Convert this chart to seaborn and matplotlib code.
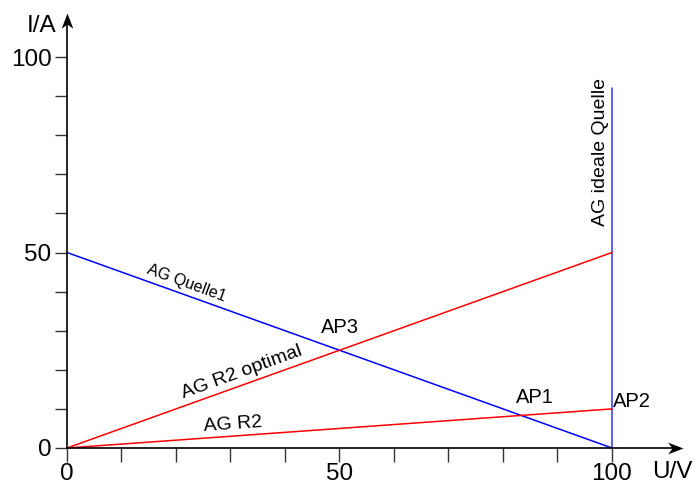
import matplotlib
matplotlib.use("Agg")
import matplotlib.pyplot as plt
from matplotlib.path import Path
import seaborn as sns
import pandas as pd

sns.set_style("white")
plt.rcParams['font.family'] = ['Liberation Sans', 'DejaVu Sans']
plt.rcParams['text.color'] = 'black'
plt.rcParams['xtick.color'] = 'black'
plt.rcParams['ytick.color'] = 'black'

# Data
quelle1_u = [0, 100]
quelle1_i = [50, 0]
ideal_u = [100, 100]
ideal_i = [0, 92]
r2opt_u = [0, 100]
r2opt_i = [0, 50]
r2_u = [0, 100]
r2_i = [0, 10]

x_ticks = list(range(0, 101, 10))
y_ticks = list(range(0, 101, 10))
x_labels = {0: "0", 50: "50", 100: "100"}
y_labels = {0: "0", 50: "50", 100: "100"}

df = pd.concat([
    pd.DataFrame({"U": quelle1_u, "I": quelle1_i, "line": "AG Quelle1"}),
    pd.DataFrame({"U": ideal_u, "I": ideal_i, "line": "AG ideale Quelle"}),
    pd.DataFrame({"U": r2opt_u, "I": r2opt_i, "line": "AG R2 optimal"}),
    pd.DataFrame({"U": r2_u, "I": r2_i, "line": "AG R2"}),
])
palette = {"AG Quelle1": "#0000ff", "AG ideale Quelle": "#3333ff",
           "AG R2 optimal": "#ff0000", "AG R2": "#ff0000"}

fig = plt.figure(figsize=(6.95, 4.84), dpi=100)
ax = fig.add_axes([0, 0, 1, 1])
sx = 5.45
sy = 3.91
ax.set_xlim(-67 / sx, (695 - 67) / sx)
ax.set_ylim((448 - 484) / sy, 448 / sy)

sns.lineplot(data=df, x="U", y="I", hue="line", units="line", estimator=None,
             sort=False, palette=palette, linewidth=1.1, legend=False, ax=ax)

# Axes with spines through origin
for s in ["top", "right"]:
    ax.spines[s].set_visible(False)
ax.spines["left"].set_position(("data", 0))
ax.spines["bottom"].set_position(("data", 0))
ax.spines["left"].set_bounds(0, 109)
ax.spines["bottom"].set_bounds(0, 111)
for s in ["left", "bottom"]:
    ax.spines[s].set_color("black")
    ax.spines[s].set_linewidth(1.2)
ax.set_xticks(x_ticks)
ax.set_xticklabels([x_labels.get(t, "") for t in x_ticks])
ax.set_yticks(y_ticks)
ax.set_yticklabels([y_labels.get(t, "") for t in y_ticks])
ax.tick_params(axis="x", bottom=True, direction="out", length=10, width=1,
               color="#333333", labelcolor="black", labelsize=17.5, pad=0.8)
ax.tick_params(axis="y", left=True, direction="out", length=8.6, width=1,
               color="#333333", labelcolor="black", labelsize=17.5, pad=2.5)
ax.set_xlabel("")
ax.set_ylabel("")

# barbed arrow heads as custom markers (tip at the origin of the marker)
right_head = Path([(0, 0), (-1, 0.38), (-0.72, 0), (-1, -0.38), (0, 0)],
                  [Path.MOVETO, Path.LINETO, Path.LINETO, Path.LINETO, Path.CLOSEPOLY])
up_head = Path([(0, 0), (0.38, -1), (0, -0.72), (-0.38, -1), (0, 0)],
               [Path.MOVETO, Path.LINETO, Path.LINETO, Path.LINETO, Path.CLOSEPOLY])
ax.plot([113.0], [0], marker=right_head, markersize=22, color="black",
        markeredgewidth=0, clip_on=False)
ax.plot([0], [111.3], marker=up_head, markersize=22, color="black",
        markeredgewidth=0, clip_on=False)

# axis titles
ax.text(-4.6, 108, "I/A", fontsize=17.5, ha="center", va="center")
ax.text(111, -6.2, "U/V", fontsize=17.5, ha="center", va="center")

# annotations
ax.text(22, 42.2, "AG Quelle1", fontsize=11.5, rotation=-20, ha="center", va="center",
        rotation_mode="anchor")
ax.text(32.1, 19.4, "AG R2 optimal", fontsize=14, rotation=20, ha="center",
        va="center", rotation_mode="anchor")
ax.text(30.5, 5.9, "AG R2", fontsize=14, rotation=4, ha="center", va="center",
        rotation_mode="anchor")
ax.text(50.1, 30.9, "AP3", fontsize=14.5, ha="center", va="center")
ax.text(85.9, 13.0, "AP1", fontsize=14.5, ha="center", va="center")
ax.text(100.2, 11.8, "AP2", fontsize=14.5, ha="left", va="center")
ax.text(97.8, 75.7, "AG ideale Quelle", fontsize=14, rotation=90, ha="center",
        va="center", rotation_mode="anchor")

fig.savefig("out.png", dpi=100, facecolor="white")
